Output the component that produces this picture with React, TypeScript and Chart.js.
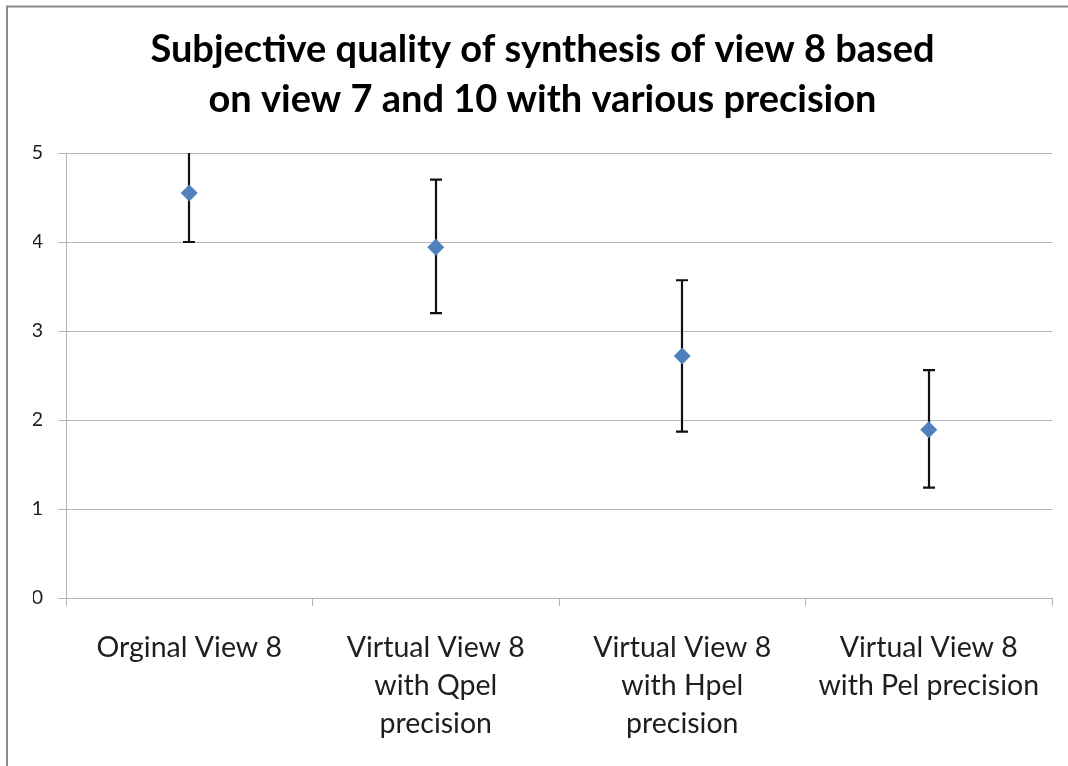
import React, { useEffect, useRef } from "react";
import { Chart, registerables } from "chart.js";

Chart.register(...registerables);

const categories: string[][] = [
  ["Orginal View 8"],
  ["Virtual View 8", "with Qpel", "precision"],
  ["Virtual View 8", "with Hpel", "precision"],
  ["Virtual View 8", "with Pel precision"],
];
const meanScores = [4.55, 3.94, 2.72, 1.89];
const upperBounds = [5.1, 4.7, 3.57, 2.56];
const lowerBounds = [4.0, 3.2, 1.87, 1.24];
const titleLines = [
  "Subjective quality of synthesis of view 8 based",
  "on view 7 and 10 with various precision",
];

const FONT = "Lato, 'Open Sans', sans-serif";
const GRID = "#b4b4b4";

const frame = {
  id: "frame",
  beforeDraw(chart: any) {
    const ctx = chart.ctx;
    ctx.save();
    ctx.fillStyle = "#ffffff";
    ctx.fillRect(0, 0, chart.width, chart.height);
    ctx.strokeStyle = "#8a8a8a";
    ctx.lineWidth = 2;
    ctx.beginPath();
    ctx.moveTo(7, chart.height + 5);
    ctx.lineTo(7, 6.5);
    ctx.lineTo(chart.width + 5, 6.5);
    ctx.stroke();
    ctx.restore();
  },
};

const errorBars = {
  id: "errorBars",
  beforeDatasetsDraw(chart: any) {
    const ctx = chart.ctx;
    const xs = chart.scales.x;
    const ys = chart.scales.y;
    const area = chart.chartArea;
    ctx.save();
    ctx.beginPath();
    ctx.rect(area.left, area.top, area.right - area.left, area.bottom - area.top);
    ctx.clip();
    ctx.strokeStyle = "#111111";
    ctx.lineWidth = 2.2;
    meanScores.forEach((_, i) => {
      const x = Math.round(xs.getPixelForValue(i));
      const yHi = ys.getPixelForValue(upperBounds[i]);
      const yLo = ys.getPixelForValue(lowerBounds[i]);
      ctx.beginPath();
      ctx.moveTo(x, yHi);
      ctx.lineTo(x, yLo);
      ctx.moveTo(x - 6, yHi);
      ctx.lineTo(x + 6, yHi);
      ctx.moveTo(x - 6, yLo);
      ctx.lineTo(x + 6, yLo);
      ctx.stroke();
    });
    ctx.restore();
  },
};

export default function App() {
  const ref = useRef<HTMLCanvasElement | null>(null);
  useEffect(() => {
    if (!ref.current) return;
    const chart = new Chart(ref.current, {
      type: "line",
      data: {
        labels: categories as any,
        datasets: [
          {
            data: meanScores,
            showLine: false,
            pointStyle: "rectRot",
            pointRadius: 8.5,
            pointHoverRadius: 8.5,
            pointBackgroundColor: "#4f81bd",
            pointBorderColor: "#4f81bd",
            pointBorderWidth: 0,
          },
        ],
      },
      options: {
        responsive: false,
        animation: false,
        events: [],
        layout: { padding: { left: 33, right: 16, top: 0, bottom: 0 } },
        plugins: {
          legend: { display: false },
          tooltip: { enabled: false },
          title: {
            display: true,
            text: titleLines,
            color: "#000000",
            font: { family: FONT, size: 38, weight: "bold", lineHeight: 50 / 38 },
            padding: { top: 25, bottom: 28 },
          },
        },
        scales: {
          x: {
            type: "category",
            offset: true,
            grid: {
              offset: true,
              drawOnChartArea: false,
              drawTicks: true,
              tickLength: 8,
              color: GRID,
            },
            border: { display: true, color: GRID, width: 1 },
            ticks: {
              color: "#1e1e1e",
              font: { family: FONT, size: 28.5, lineHeight: 38 / 28.5 },
              padding: 23,
              maxRotation: 0,
              minRotation: 0,
              autoSkip: false,
            },
            afterFit(scale: any) {
              scale.height = 168;
            },
          },
          y: {
            min: 0,
            max: 5,
            ticks: {
              stepSize: 1,
              color: "#1e1e1e",
              font: { family: FONT, size: 20 },
              padding: 15,
            },
            grid: { color: GRID, tickLength: 8, drawTicks: true },
            border: { display: true, color: GRID, width: 1 },
            afterFit(scale: any) {
              scale.width = 33;
            },
          },
        },
      },
      plugins: [frame, errorBars],
    });
    return () => chart.destroy();
  }, []);
  return (
    <div style={{ position: "fixed", left: 0, top: 0, width: 1068, height: 766 }}>
      <canvas ref={ref} width={1068} height={766} style={{ display: "block" }} />
    </div>
  );
}
